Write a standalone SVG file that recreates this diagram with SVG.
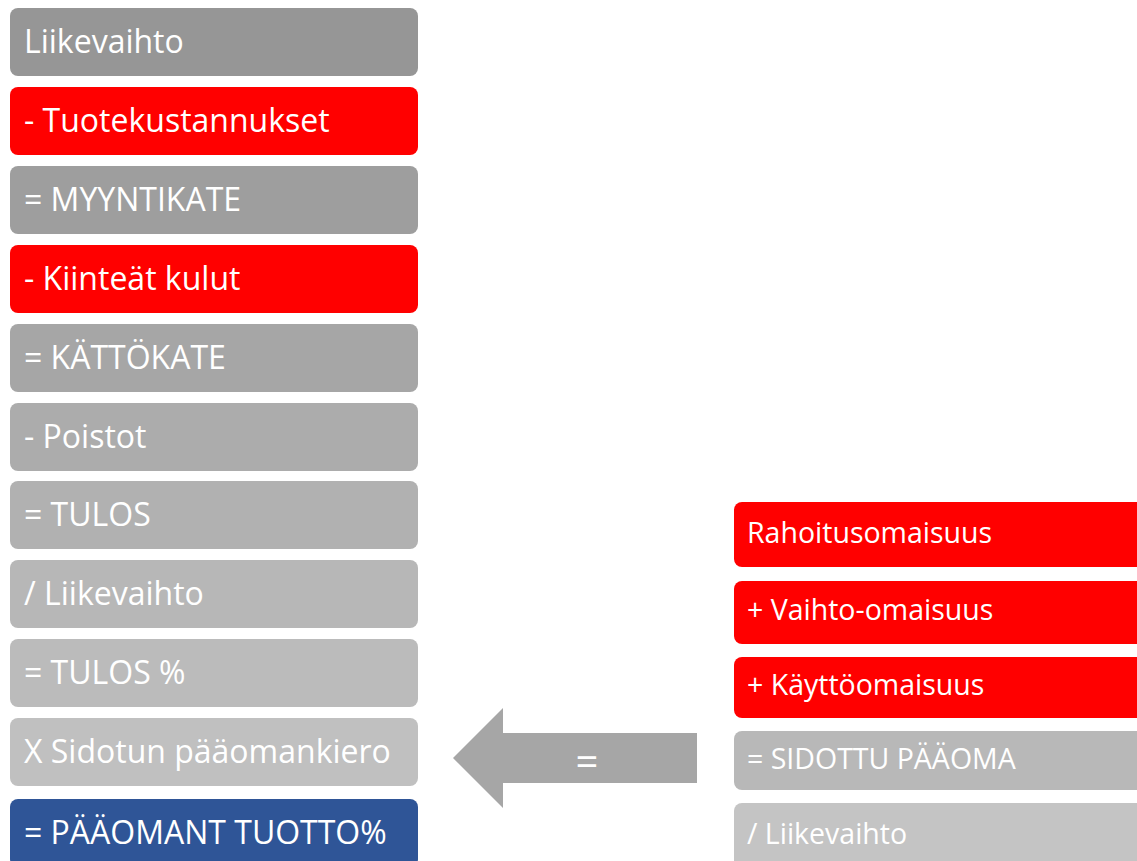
<svg xmlns="http://www.w3.org/2000/svg" width="1137" height="861" viewBox="0 0 1137 861">
<style>
.t{font-family:"Open Sans","Liberation Sans",sans-serif;fill:#ffffff;font-size:32px}
.r{font-family:"Open Sans","Liberation Sans",sans-serif;fill:#ffffff;font-size:28.5px}
</style>
<rect width="1137" height="861" fill="#ffffff"/>
<g id="n1"><rect x="10" y="8" width="408" height="68" rx="8" fill="#969696"/><text class="t" x="24" y="53">Liikevaihto</text></g>
<g id="n2"><rect x="10" y="87" width="408" height="68" rx="8" fill="#ff0000"/><text class="t" x="24" y="132">- Tuotekustannukset</text></g>
<g id="n3"><rect x="10" y="166" width="408" height="68" rx="8" fill="#9e9e9e"/><text class="t" x="24" y="211">= MYYNTIKATE</text></g>
<g id="n4"><rect x="10" y="245" width="408" height="68" rx="8" fill="#ff0000"/><text class="t" x="24" y="290">- Kiinteät kulut</text></g>
<g id="n5"><rect x="10" y="324" width="408" height="68" rx="8" fill="#a6a6a6"/><text class="t" x="24" y="369">= KÄTTÖKATE</text></g>
<g id="n6"><rect x="10" y="403" width="408" height="68" rx="8" fill="#acacac"/><text class="t" x="24" y="448">- Poistot</text></g>
<g id="n7"><rect x="10" y="481" width="408" height="68" rx="8" fill="#b1b1b1"/><text class="t" x="24" y="526">= TULOS</text></g>
<g id="n8"><rect x="10" y="560" width="408" height="68" rx="8" fill="#b7b7b7"/><text class="t" x="24" y="605">/ Liikevaihto</text></g>
<g id="n9"><rect x="10" y="639" width="408" height="68" rx="8" fill="#bbbbbb"/><text class="t" x="24" y="684">= TULOS %</text></g>
<g id="n10"><rect x="10" y="718" width="408" height="68" rx="8" fill="#c0c0c0"/><text class="t" x="24" y="763">X Sidotun pääomankiero</text></g>
<g id="n11"><rect x="10" y="799" width="408" height="68" rx="8" fill="#2f5597"/><text class="t" x="24" y="844">= PÄÄOMANT TUOTTO%</text></g>
<g id="r1"><rect x="734" y="502" width="420" height="65" rx="8" fill="#ff0000"/><text class="r" x="747" y="543">Rahoitusomaisuus</text></g>
<g id="r2"><rect x="734" y="581" width="420" height="63" rx="8" fill="#ff0000"/><text class="r" x="747" y="620">+ Vaihto-omaisuus</text></g>
<g id="r3"><rect x="734" y="657" width="420" height="61" rx="8" fill="#ff0000"/><text class="r" x="747" y="695">+ Käyttöomaisuus</text></g>
<g id="r4"><rect x="734" y="731" width="420" height="59" rx="8" fill="#b8b8b8"/><text class="r" x="747" y="769">= SIDOTTU PÄÄOMA</text></g>
<g id="r5"><rect x="734" y="803" width="420" height="70" rx="8" fill="#c4c4c4"/><text class="r" x="747" y="844">/ Liikevaihto</text></g>
<g id="connectors">
<polygon points="453,758 503,708 503,733 697,733 697,783 503,783 503,808" fill="#a6a6a6"/>
<text class="t" x="587" y="776" text-anchor="middle" style="font-size:40px">=</text>
</g>
</svg>
